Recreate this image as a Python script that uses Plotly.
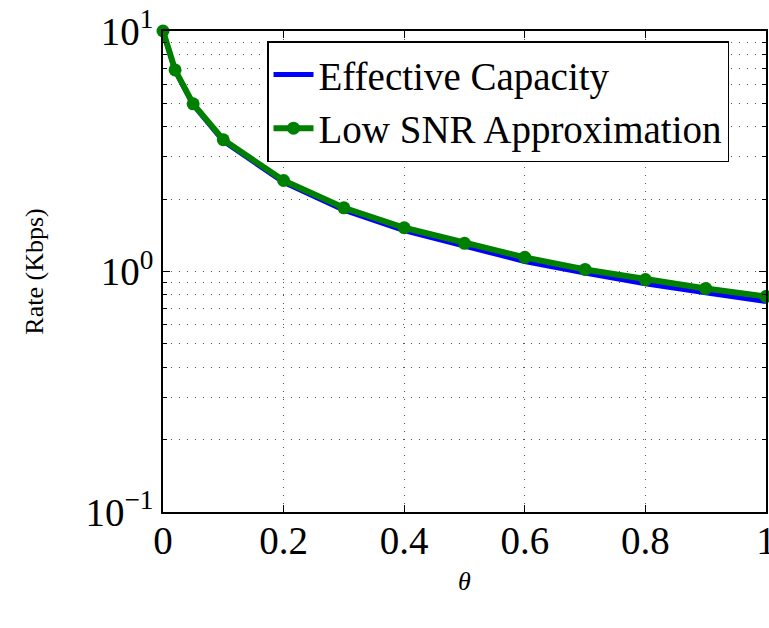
import plotly.graph_objects as go

theta = [0, 0.02, 0.05, 0.1, 0.2, 0.3, 0.4, 0.5, 0.6, 0.7, 0.8, 0.9, 1.0]
effective_capacity = [10.0, 6.85, 4.93, 3.48, 2.35, 1.80, 1.48, 1.27, 1.10, 0.985, 0.89, 0.815, 0.75]
low_snr_approx = [10.0, 6.89, 4.98, 3.53, 2.39, 1.84, 1.52, 1.31, 1.145, 1.02, 0.926, 0.85, 0.787]

x_ticks = [0, 0.2, 0.4, 0.6, 0.8, 1]
x_ticktext = ["0", "0.2", "0.4", "0.6", "0.8", "1"]
y_ticks = [0.1, 1, 10]
y_ticktext = ["10<sup>\u22121</sup>", "10<sup>0</sup>", "10<sup>1</sup>"]
y_minor = [0.2, 0.3, 0.4, 0.5, 0.6, 0.7, 0.8, 0.9, 2, 3, 4, 5, 6, 7, 8, 9]

FONT = "Liberation Serif"
GRID = "#555555"
DASH = "1px,7px"

fig = go.Figure()
fig.add_trace(go.Scatter(
    x=theta, y=effective_capacity, mode="lines", name="Effective Capacity",
    line=dict(color="#0000FF", width=5), cliponaxis=False))
fig.add_trace(go.Scatter(
    x=theta, y=low_snr_approx, mode="lines+markers", name="Low SNR Approximation",
    line=dict(color="#008000", width=6),
    marker=dict(color="#008000", size=13, symbol="circle"), cliponaxis=False))

axis_common = dict(
    showline=True, linecolor="black", linewidth=1.5, mirror="allticks",
    ticks="inside", ticklen=7, tickcolor="black",
    showgrid=True, gridcolor=GRID, griddash=DASH, gridwidth=1,
    zeroline=False, tickfont=dict(family=FONT, size=39, color="black"),
    ticklabeloverflow="allow", automargin=False,
)

fig.update_xaxes(
    range=[0, 1], tickmode="array", tickvals=x_ticks, ticktext=x_ticktext,
    ticklabelstandoff=-7,
    title=dict(text="<i>\u03b8</i>", font=dict(family=FONT, size=26, color="black"), standoff=11),
    **axis_common)
fig.update_yaxes(
    type="log", range=[-1, 1], tickmode="array", tickvals=y_ticks, ticktext=y_ticktext,
    title=dict(text="Rate (Kbps)", font=dict(family=FONT, size=26, color="black"), standoff=34),
    minor=dict(tickmode="array", tickvals=y_minor, ticks="inside", ticklen=4,
               tickcolor="black", showgrid=True, gridcolor=GRID, griddash=DASH, gridwidth=1),
    **axis_common)

fig.update_layout(
    width=769, height=628,
    margin=dict(l=163, r=3, t=31, b=116),
    paper_bgcolor="white", plot_bgcolor="white",
    font=dict(family=FONT, color="black"),
    legend=dict(x=0.1725, y=0.979, xanchor="left", yanchor="top",
                bgcolor="white", bordercolor="black", borderwidth=1.5,
                font=dict(family=FONT, size=39, color="black"),
                tracegroupgap=0, itemwidth=40),
    showlegend=True,
)

fig.write_html("out.html")
